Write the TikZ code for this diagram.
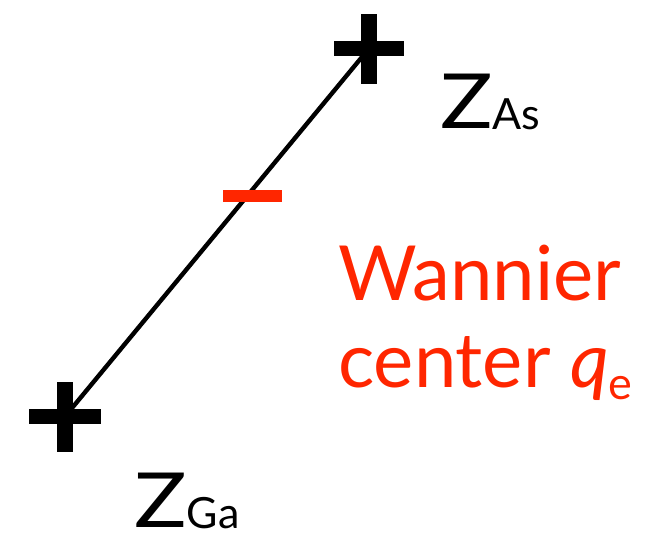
\documentclass[tikz,border=0pt]{standalone}
\usepackage{fontspec}
\setmainfont{Lato}
\definecolor{wred}{RGB}{255,38,0}
\newcommand{\wideZ}{\scalebox{1.15}[1]{Z}}
\begin{document}
\begin{tikzpicture}[x=1pt,y=1pt,
  lbl/.style={inner sep=0pt,anchor=base west,font=\fontsize{76}{76}\selectfont},
  wlbl/.style={lbl,text=wred,align=left}]
\useasboundingbox (0,0) rectangle (657,-538);
% atom centres
\coordinate (ga) at (65,-416.5);
\coordinate (as) at (369,-48.5);
% bond
\draw[line width=4.4pt] (ga) -- (as);
% plus signs
\fill ([xshift=-35pt,yshift=-7.5pt]as) rectangle ([xshift=35pt,yshift=7.5pt]as);
\fill ([xshift=-8pt,yshift=-35pt]as) rectangle ([xshift=8pt,yshift=35pt]as);
\fill ([xshift=-36pt,yshift=-7.5pt]ga) rectangle ([xshift=36pt,yshift=7.5pt]ga);
\fill ([xshift=-8pt,yshift=-35pt]ga) rectangle ([xshift=8pt,yshift=35pt]ga);
% Wannier centre (minus)
\coordinate (wc) at (252.5,-196);
\fill[wred] ([xshift=-29.5pt,yshift=-6pt]wc) rectangle ([xshift=29.5pt,yshift=6pt]wc);
% labels
\node[lbl] (zas) at (440,-128) {\wideZ\raisebox{-1pt}{\fontsize{43}{43}\selectfont As}};
\node[lbl] (zga) at (134,-527) {\wideZ\raisebox{-1pt}{\fontsize{43}{43}\selectfont Ga}};
\node[wlbl] (w1) at (338,-300) {Wannier};
\node[wlbl] (w2) at (338,-387) {center \textit{q}\raisebox{-12pt}{\fontsize{45}{45}\selectfont e}};
\end{tikzpicture}
\end{document}
